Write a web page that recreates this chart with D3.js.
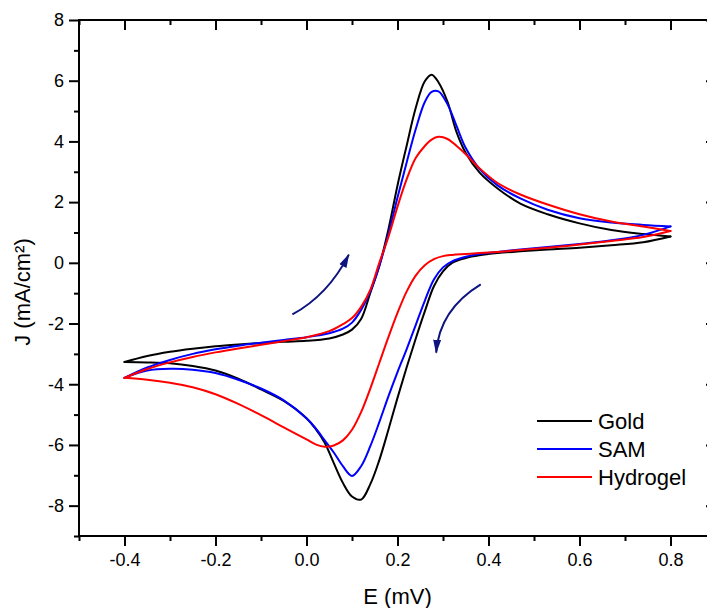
<!DOCTYPE html>
<html><head><meta charset="utf-8">
<script src="https://cdn.jsdelivr.net/npm/d3@7"></script>
<style>body{margin:0;background:#fff}svg{display:block}</style>
</head><body><svg id="c" width="707" height="608"></svg>
<script>
// ---- data ----
const seriesNames = ["Gold", "SAM", "Hydrogel"];
const seriesColors = ["#000000", "#0000ff", "#ff0000"];

// forward (anodic) scan potentials, V
const fwdE = [-0.4,-0.35,-0.3,-0.25,-0.2,-0.15,-0.1,-0.05,0.0,0.05,0.08,0.1,0.12,0.14,0.16,0.18,0.2,0.22,0.24,0.26,0.275,0.29,0.31,0.33,0.35,0.38,0.42,0.47,0.53,0.6,0.67,0.74,0.8];
const goldFwd = [-3.27,-3.07,-2.93,-2.83,-2.75,-2.69,-2.64,-2.60,-2.57,-2.49,-2.36,-2.2,-1.85,-1.0,-0.1,1.1,2.55,3.85,5.1,5.98,6.2,5.95,5.3,4.3,3.62,2.98,2.45,1.95,1.6,1.3,1.08,0.95,0.87];
const samFwd = [-3.79,-3.45,-3.2,-3.0,-2.85,-2.73,-2.63,-2.54,-2.45,-2.32,-2.17,-1.97,-1.55,-0.95,-0.1,0.95,2.15,3.3,4.4,5.3,5.63,5.65,5.22,4.5,3.78,3.1,2.55,2.12,1.75,1.47,1.33,1.25,1.2];
const hydFwd = [-3.79,-3.5,-3.28,-3.1,-2.95,-2.82,-2.7,-2.58,-2.45,-2.25,-2.02,-1.82,-1.45,-0.9,0.0,0.85,1.85,2.75,3.45,3.85,4.06,4.15,4.08,3.85,3.58,3.12,2.63,2.25,1.92,1.6,1.36,1.2,1.05];

// reverse (cathodic) scan potentials, V
const revE = [0.8,0.74,0.67,0.6,0.53,0.47,0.42,0.38,0.35,0.32,0.3,0.28,0.26,0.24,0.22,0.2,0.18,0.16,0.14,0.12,0.1,0.08,0.06,0.04,0.02,0.0,-0.05,-0.1,-0.15,-0.2,-0.25,-0.3,-0.35,-0.4];
const goldRev = [0.87,0.68,0.58,0.5,0.44,0.38,0.32,0.25,0.16,0.0,-0.28,-0.77,-1.6,-2.5,-3.45,-4.45,-5.5,-6.5,-7.3,-7.8,-7.7,-7.25,-6.6,-5.93,-5.47,-5.12,-4.55,-4.17,-3.82,-3.55,-3.4,-3.31,-3.28,-3.27];
const samRev = [1.2,0.92,0.74,0.62,0.52,0.44,0.36,0.29,0.2,0.05,-0.15,-0.55,-1.25,-2.05,-2.85,-3.6,-4.4,-5.25,-6.05,-6.7,-7.02,-6.7,-6.25,-5.85,-5.45,-5.12,-4.53,-4.14,-3.85,-3.63,-3.52,-3.49,-3.55,-3.79];
const hydRev = [1.05,0.85,0.72,0.6,0.5,0.42,0.36,0.32,0.29,0.26,0.22,0.12,-0.08,-0.42,-0.95,-1.65,-2.45,-3.3,-4.15,-4.92,-5.5,-5.85,-6.02,-6.06,-5.98,-5.82,-5.42,-5.02,-4.65,-4.33,-4.1,-3.95,-3.85,-3.79];

// axis ticks
const xMajor = [-0.4,-0.2,0.0,0.2,0.4,0.6,0.8];
const xMinor = [-0.5,-0.3,-0.1,0.1,0.3,0.5,0.7,0.9];
const yMajor = [-8,-6,-4,-2,0,2,4,6,8];
const yMinor = [-9,-7,-5,-3,-1,1,3,5,7];

// scan-direction arrows (data coords): start, control, tip
const arrows = [
  {from:[-0.031,-1.70], ctrl:[0.047,-1.07], to:[0.093,0.27]},
  {from:[0.383,-0.71], ctrl:[0.292,-1.54], to:[0.285,-2.96]}
];

// ---- chart ----
const FONT = "'Liberation Sans', Arial, Helvetica, sans-serif";
const svg = d3.select("#c");
const x = d3.scaleLinear().domain([-0.5, 0.9]).range([79, 716]);
const y = d3.scaleLinear().domain([-9, 8]).range([536, 20]);

const fwd = [goldFwd, samFwd, hydFwd];
const rev = [goldRev, samRev, hydRev];

const line = d3.line().x(d => x(d[0])).y(d => y(d[1])).curve(d3.curveCatmullRom.alpha(0.5));
const plot = svg.append("g");
seriesNames.forEach((name, i) => {
  const f = fwdE.map((e, k) => [e, fwd[i][k]]);
  const r = revE.map((e, k) => [e, rev[i][k]]);
  [f, r].forEach(pts => {
    plot.append("path").attr("d", line(pts)).attr("fill", "none")
      .attr("stroke", seriesColors[i]).attr("stroke-width", 2)
      .attr("stroke-linejoin", "round").attr("stroke-linecap", "round");
  });
});

// arrows
const navy = "#0d1480";
const defs = svg.append("defs");
defs.append("marker").attr("id", "ah").attr("viewBox", "0 -5 14 10")
  .attr("refX", 13).attr("refY", 0).attr("markerWidth", 14).attr("markerHeight", 10)
  .attr("markerUnits", "userSpaceOnUse").attr("orient", "auto")
  .append("path").attr("d", "M0,-4L14,0L0,4Z").attr("fill", navy);
arrows.forEach(a => {
  const p = d3.path();
  p.moveTo(x(a.from[0]), y(a.from[1]));
  p.quadraticCurveTo(x(a.ctrl[0]), y(a.ctrl[1]), x(a.to[0]), y(a.to[1]));
  svg.append("path").attr("d", p.toString()).attr("fill", "none")
    .attr("stroke", navy).attr("stroke-width", 2).attr("marker-end", "url(#ah)");
});

// frame
svg.append("rect").attr("x", x(-0.5)).attr("y", y(8)).attr("width", x(0.9) - x(-0.5))
  .attr("height", y(-9) - y(8)).attr("fill", "none").attr("stroke", "#000").attr("stroke-width", 2);

function styleAxis(g) {
  g.select(".domain").remove();
  g.selectAll(".tick line").attr("stroke", "#000").attr("stroke-width", 2);
  g.selectAll(".tick text").attr("font-family", FONT).attr("font-size", 18).attr("fill", "#000");
}
// bottom
svg.append("g").attr("transform", `translate(0,${y(-9)})`)
  .call(d3.axisBottom(x).tickValues(xMajor).tickSize(10).tickPadding(7).tickSizeOuter(0).tickFormat(d => d.toFixed(1)))
  .call(styleAxis);
svg.append("g").attr("transform", `translate(0,${y(-9)})`)
  .call(d3.axisBottom(x).tickValues(xMinor).tickSize(5).tickSizeOuter(0).tickFormat(""))
  .call(styleAxis);
// top (inward)
svg.append("g").attr("transform", `translate(0,${y(8)})`)
  .call(d3.axisTop(x).tickValues(xMajor).tickSize(-10).tickSizeOuter(0).tickFormat(""))
  .call(styleAxis);
svg.append("g").attr("transform", `translate(0,${y(8)})`)
  .call(d3.axisTop(x).tickValues(xMinor).tickSize(-5).tickSizeOuter(0).tickFormat(""))
  .call(styleAxis);
// left
svg.append("g").attr("transform", `translate(${x(-0.5)},0)`)
  .call(d3.axisLeft(y).tickValues(yMajor).tickSize(10).tickPadding(5).tickSizeOuter(0).tickFormat(d => String(d)))
  .call(styleAxis);
svg.append("g").attr("transform", `translate(${x(-0.5)},0)`)
  .call(d3.axisLeft(y).tickValues(yMinor).tickSize(5).tickSizeOuter(0).tickFormat(""))
  .call(styleAxis);
// right (inward)
svg.append("g").attr("transform", `translate(${x(0.9)},0)`)
  .call(d3.axisRight(y).tickValues(yMajor).tickSize(-10).tickSizeOuter(0).tickFormat(""))
  .call(styleAxis);
svg.append("g").attr("transform", `translate(${x(0.9)},0)`)
  .call(d3.axisRight(y).tickValues(yMinor).tickSize(-5).tickSizeOuter(0).tickFormat(""))
  .call(styleAxis);

// titles
svg.append("text").attr("x", (x(-0.5) + x(0.9)) / 2).attr("y", 604)
  .attr("text-anchor", "middle").attr("font-family", FONT).attr("font-size", 22).text("E (mV)");
svg.append("text").attr("transform", "translate(30,292) rotate(-90)")
  .attr("text-anchor", "middle").attr("font-family", FONT).attr("font-size", 22).text("J (mA/cm²)");

// legend
const leg = svg.append("g");
seriesNames.forEach((name, i) => {
  const ly = 421 + i * 28;
  leg.append("line").attr("x1", 537).attr("x2", 592).attr("y1", ly).attr("y2", ly)
    .attr("stroke", seriesColors[i]).attr("stroke-width", 2);
  leg.append("text").attr("x", 598).attr("y", ly).attr("dy", "0.35em")
    .attr("font-family", FONT).attr("font-size", 22).text(name);
});
</script>
</body></html>
